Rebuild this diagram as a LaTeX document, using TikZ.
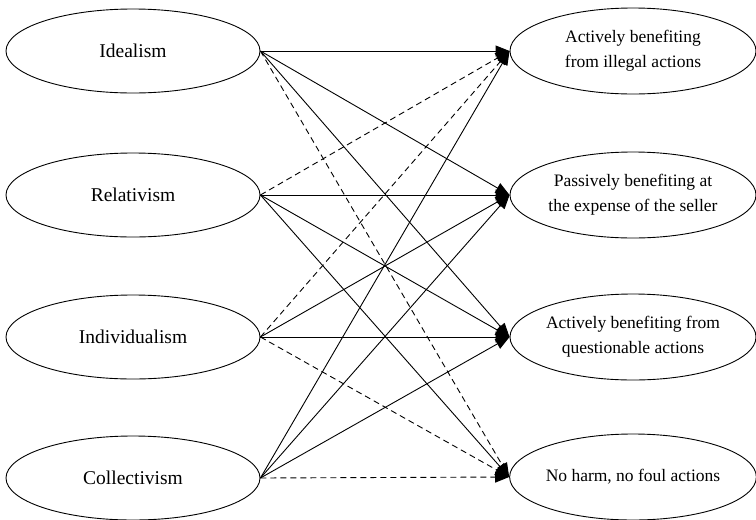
\documentclass[tikz,border=0pt]{standalone}
\usepackage{fontspec}
\setmainfont{Liberation Serif}
\usetikzlibrary{shapes.geometric,arrows.meta}
\begin{document}
\begin{tikzpicture}[x=1pt,y=-1pt,
  lell/.style={draw,ellipse,line width=0.9pt,minimum width=254pt,minimum height=84pt,inner sep=0pt,
    font=\fontsize{19.5}{24}\selectfont},
  rell/.style={draw,ellipse,line width=0.9pt,minimum width=246pt,minimum height=86pt,inner sep=0pt,
    align=center,font=\fontsize{17.5}{25}\selectfont},
  link/.style={line width=0.9pt,-{Triangle[length=14pt,width=11pt]}},
  dlink/.style={link,dash pattern=on 6pt off 4pt}]
\useasboundingbox (0,0) rectangle (756,520);
\node[lell] (L1) at (133,51) {Idealism};
\node[lell] (L2) at (133,195) {Relativism};
\node[lell] (L3) at (133,337) {Individualism};
\node[lell] (L4) at (133,478) {Collectivism};
\node[rell] (R1) at (633,51) {Actively benefiting\\from illegal actions};
\node[rell] (R2) at (633,195) {Passively benefiting at\\the expense of the seller};
\node[rell] (R3) at (633,337) {Actively benefiting from\\questionable actions};
\node[rell] (R4) at (633,477) {No harm, no foul actions};
\draw[link] (L1.east) -- (R1.west);
\draw[link] (L1.east) -- (R2.west);
\draw[link] (L1.east) -- (R3.west);
\draw[dlink] (L1.east) -- (R4.west);
\draw[dlink] (L2.east) -- (R1.west);
\draw[link] (L2.east) -- (R2.west);
\draw[link] (L2.east) -- (R3.west);
\draw[link] (L2.east) -- (R4.west);
\draw[dlink] (L3.east) -- (R1.west);
\draw[link] (L3.east) -- (R2.west);
\draw[link] (L3.east) -- (R3.west);
\draw[dlink] (L3.east) -- (R4.west);
\draw[link] (L4.east) -- (R1.west);
\draw[link] (L4.east) -- (R2.west);
\draw[link] (L4.east) -- (R3.west);
\draw[dlink] (L4.east) -- (R4.west);
\end{tikzpicture}
\end{document}
